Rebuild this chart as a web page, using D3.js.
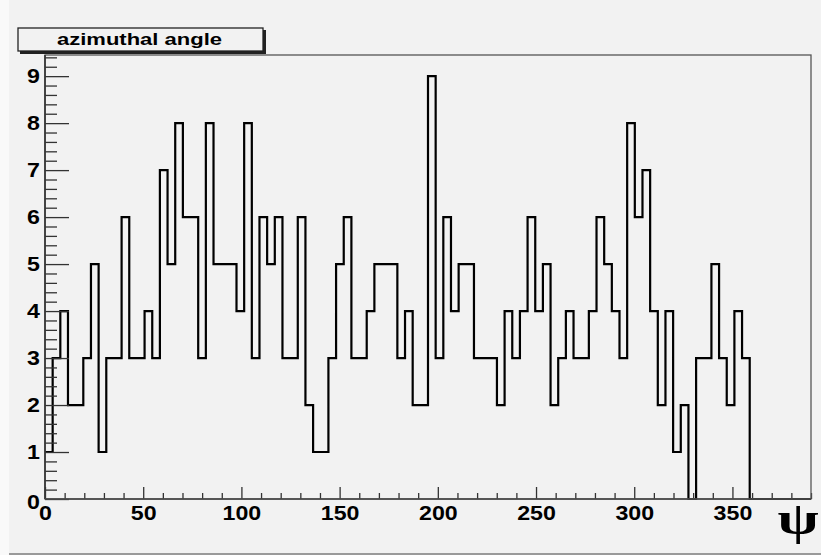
<!DOCTYPE html>
<html><head><meta charset="utf-8">
<script src="https://cdn.jsdelivr.net/npm/d3@7"></script>
<style>
html,body{margin:0;padding:0;background:#f2f2f2;}
svg{display:block;}
</style></head>
<body>
<svg id="chart" width="821" height="555"></svg>
<script>
// ---- data ----
const title = "azimuthal angle";
const xAxisSymbol = "ψ";
const binLow = 0;
const binHigh = 390;
const binCount = 100;
const binValues = [
  1,3,4,2,2,3,5,1,3,3,
  6,3,3,4,3,7,5,8,6,6,
  3,8,5,5,5,4,8,3,6,5,
  6,3,3,6,2,1,1,3,5,6,
  3,3,4,5,5,5,3,4,2,2,
  9,3,6,4,5,5,3,3,3,2,
  4,3,4,6,4,5,2,3,4,3,
  3,4,6,5,4,3,8,6,7,4,
  2,4,1,2,0,3,3,5,3,2,
  4,3,0,0,0,0,0,0,0,0
];
const yMax = 9.45;
const xMajorTicks = [0,50,100,150,200,250,300,350];
const yMajorTicks = [0,1,2,3,4,5,6,7,8,9];

// ---- layout ----
const svg = d3.select("#chart");
const L = 45, R = 811, T = 55, B = 499;
const x = d3.scaleLinear().domain([binLow, binHigh]).range([L, R]);
const y = d3.scaleLinear().domain([0, yMax]).range([B, T]);
const sans = "'Liberation Sans',Arial,Helvetica,sans-serif";
const stretch = 1.16;

// canvas background
svg.append("rect").attr("x",0).attr("y",0).attr("width",821).attr("height",555).attr("fill","#f2f2f2");
svg.append("rect").attr("x",0).attr("y",0).attr("width",9).attr("height",555).attr("fill","#f9f9f9");
svg.append("rect").attr("x",9).attr("y",553).attr("width",812).attr("height",2).attr("fill","#9a9a9a");

// histogram
const w = (binHigh - binLow) / binCount;
const pts = binValues.map((v,i) => [binLow + i*w, v]);
pts.push([binHigh, binValues[binValues.length-1]]);
const line = d3.line().x(d => x(d[0])).y(d => y(d[1])).curve(d3.curveStepAfter);
svg.append("path").attr("d", line(pts)).attr("fill","none")
  .attr("stroke","#000").attr("stroke-width",2.2).attr("stroke-linejoin","miter");

// x axis
const xMinor = d3.range(0, binHigh + 0.001, 10).filter(t => xMajorTicks.indexOf(t) < 0);
const gxm = svg.append("g").attr("transform",`translate(0,${B})`)
  .call(d3.axisBottom(x).tickValues(xMinor).tickSizeInner(-6).tickSizeOuter(0).tickFormat(""));
const gx = svg.append("g").attr("transform",`translate(0,${B})`)
  .call(d3.axisBottom(x).tickValues(xMajorTicks).tickSizeInner(-12).tickSizeOuter(0).tickPadding(7).tickFormat(d3.format("d")));
// y axis
const yMinor = d3.range(0, yMax + 0.0001, 0.2).map(v => Math.round(v*10)/10).filter(t => yMajorTicks.indexOf(t) < 0);
const gym = svg.append("g").attr("transform",`translate(${L},0)`)
  .call(d3.axisLeft(y).tickValues(yMinor).tickSizeInner(-12).tickSizeOuter(0).tickFormat(""));
const gy = svg.append("g").attr("transform",`translate(${L},0)`)
  .call(d3.axisLeft(y).tickValues(yMajorTicks).tickSizeInner(-24).tickSizeOuter(0).tickPadding(5).tickFormat(d3.format("d")));

[gxm,gx,gym,gy].forEach(g => {
  g.select(".domain").remove();
  g.selectAll("line").attr("stroke","#333").attr("stroke-width",1.3);
  g.selectAll("text").attr("font-size",20).attr("font-weight","bold")
    .attr("font-family",sans).attr("fill","#000");
});
// horizontal stretch of the labels (the reference picture is widened)
gx.selectAll(".tick text").attr("transform",`scale(${stretch},1)`);
gy.selectAll(".tick text").attr("x",-5/stretch).attr("transform",`scale(${stretch},1)`);
gy.selectAll(".tick").filter(d => d === 0).select("text").attr("dy","0.45em");

// frame
svg.append("rect").attr("x",L).attr("y",T).attr("width",R-L).attr("height",B-T)
  .attr("fill","none").attr("stroke","#555").attr("stroke-width",1.3);
svg.append("line").attr("x1",L).attr("x2",L).attr("y1",T).attr("y2",B).attr("stroke","#333").attr("stroke-width",1.6);
svg.append("line").attr("x1",L).attr("x2",R).attr("y1",B).attr("y2",B).attr("stroke","#444").attr("stroke-width",1.6);

// axis symbol
svg.append("text").attr("transform","translate(798,534) scale(1.3,1)").attr("text-anchor","middle")
  .style("font-family","'Liberation Serif','DejaVu Serif',serif").style("font-weight","bold")
  .style("font-size","46px").attr("fill","#000").text(xAxisSymbol);

// title box
svg.append("rect").attr("x",20).attr("y",30).attr("width",246).attr("height",24).attr("fill","#222");
svg.append("rect").attr("x",18).attr("y",28).attr("width",245).attr("height",23)
  .attr("fill","#f2f2f2").attr("stroke","#222").attr("stroke-width",1.3);
svg.append("text").attr("x",57).attr("y",45)
  .style("font-family",sans).style("font-weight","bold").style("font-size","17px")
  .attr("textLength",165).attr("lengthAdjust","spacingAndGlyphs").attr("fill","#000").text(title);
</script>
</body></html>
